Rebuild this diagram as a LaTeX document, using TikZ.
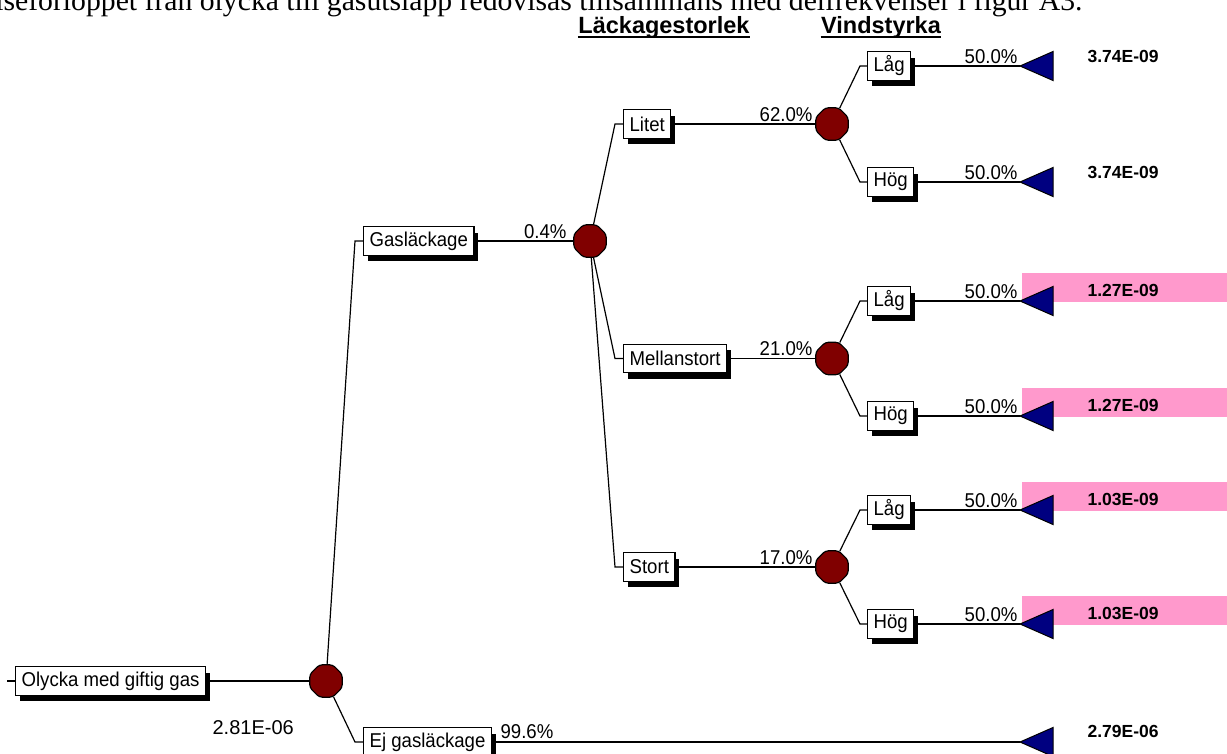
\documentclass[tikz,border=0pt]{standalone}
\usepackage{fontspec}
\setmainfont{Liberation Sans}
\newfontfamily\serifbody{Liberation Serif}
\newfontfamily\treefont[FakeStretch=0.93]{Liberation Sans}
\usetikzlibrary{shapes.geometric,shadows}
\definecolor{chance}{HTML}{800000}
\definecolor{leaf}{HTML}{000080}
\definecolor{flagged}{HTML}{FF99CC}
\tikzset{
  leafmark/.pic={\filldraw[fill=leaf, line width=1pt] (0,0) -- (33,-14.5) -- (33,14.5) -- cycle;}
}
\begin{document}
\begin{tikzpicture}[x=1pt,y=-1pt, line width=1.2pt,
  evt/.style={draw, fill=white, line width=1.3pt, font=\treefont\fontsize{20}{22}\selectfont,
    inner xsep=6pt, inner ysep=0pt, minimum height=28.5pt, anchor=west,
    drop shadow={shadow xshift=4.5pt, shadow yshift=-6pt, fill=black, opacity=1}},
  chancenode/.style={regular polygon, regular polygon sides=8, draw, fill=chance,
    minimum size=35pt, inner sep=0pt, line width=1.2pt, rounded corners=3pt},
  prob/.style={font=\treefont\fontsize{20}{22}\selectfont, inner sep=0pt, anchor=base east},
  val/.style={font=\bfseries\fontsize{17.5}{19}\selectfont, inner sep=0pt, anchor=west},
  hdr/.style={font=\bfseries\fontsize{23.5}{25}\selectfont, inner sep=0pt, anchor=base}]
\useasboundingbox (0,0) rectangle (1227,753);
\clip (0,0) rectangle (1227,753);

% running text above the figure
\node[font=\serifbody\fontsize{29.7}{31}\selectfont, inner sep=0pt, anchor=base east] at (1083,10)
  {Händelseförloppet från olycka till gasutsläpp redovisas tillsammans med delfrekvenser i figur A3.};

% column headers
\node[hdr] (h1) at (664,33.5) {Läckagestorlek};
\node[hdr] (h2) at (881,33.5) {Vindstyrka};
\draw[line width=2pt] ([yshift=-3.5pt]h1.base west) -- ([yshift=-3.5pt]h1.base east);
\draw[line width=2pt] ([yshift=-3.5pt]h2.base west) -- ([yshift=-3.5pt]h2.base east);

% highlighted outcome rows
\fill[flagged] (1022,273) rectangle (1227,302);
\fill[flagged] (1022,388) rectangle (1227,417);
\fill[flagged] (1022,482) rectangle (1227,511);
\fill[flagged] (1022,596) rectangle (1227,625);

% chance nodes
\node[chancenode] (rootC) at (326,681) {};
\node[chancenode] (gasC) at (590,241) {};
\node[chancenode] (litetC) at (832,124) {};
\node[chancenode] (mellanC) at (832,358.5) {};
\node[chancenode] (stortC) at (832,567) {};

% event boxes
\node[evt] (root) at (15,681) {Olycka med giftig gas};
\node[evt] (gas) at (363,241) {Gasläckage};
\node[evt] (ej) at (363,742) {Ej gasläckage};
\node[evt] (litet) at (623,124) {Litet};
\node[evt] (mellan) at (623,358.5) {Mellanstort};
\node[evt] (stort) at (623,567) {Stort};
\node[evt] (lag1) at (867,66) {Låg};
\node[evt] (hog1) at (867,182) {Hög};
\node[evt] (lag2) at (867,301) {Låg};
\node[evt] (hog2) at (867,416) {Hög};
\node[evt] (lag3) at (867,510) {Låg};
\node[evt] (hog3) at (867,624) {Hög};

% terminal points
\coordinate (start) at (7,681);
\coordinate (e1) at (1020,66);
\coordinate (e2) at (1020,182);
\coordinate (e3) at (1020,301);
\coordinate (e4) at (1020,416);
\coordinate (e5) at (1020,510);
\coordinate (e6) at (1020,624);
\coordinate (e7) at (1020,742);

% connectors
\draw (start) -- (root.west);
\draw (root.east) -- (rootC);
\draw (rootC) -- (355,241) -- (gas.west);
\draw (rootC) -- (355,742) -- (ej.west);
\draw (gas.east) -- (gasC);
\draw (ej.east) -- (e7);
\draw (gasC) -- (615,124) -- (litet.west);
\draw (gasC) -- (615,358.5) -- (mellan.west);
\draw (gasC) -- (615,567) -- (stort.west);
\draw (litet.east) -- (litetC);
\draw (mellan.east) -- (mellanC);
\draw (stort.east) -- (stortC);
\draw (litetC) -- (860,66) -- (lag1.west);
\draw (litetC) -- (860,182) -- (hog1.west);
\draw (mellanC) -- (860,301) -- (lag2.west);
\draw (mellanC) -- (860,416) -- (hog2.west);
\draw (stortC) -- (860,510) -- (lag3.west);
\draw (stortC) -- (860,624) -- (hog3.west);
\draw (lag1.east) -- (e1);
\draw (hog1.east) -- (e2);
\draw (lag2.east) -- (e3);
\draw (hog2.east) -- (e4);
\draw (lag3.east) -- (e5);
\draw (hog3.east) -- (e6);

% terminal markers
\foreach \e in {e1,e2,e3,e4,e5,e6,e7} \pic at (\e) {leafmark};

% probabilities
\node[prob] at (567,238) {0.4\%};
\node[prob] at (813,121) {62.0\%};
\node[prob] at (813,355.5) {21.0\%};
\node[prob] at (813,564) {17.0\%};
\node[prob] at (1018,63) {50.0\%};
\node[prob] at (1018,179) {50.0\%};
\node[prob] at (1018,298) {50.0\%};
\node[prob] at (1018,413) {50.0\%};
\node[prob] at (1018,507) {50.0\%};
\node[prob] at (1018,621) {50.0\%};
\node[prob, anchor=base west] at (500,738) {99.6\%};

% outcome frequencies
\node[val] at (1087,56) {3.74E-09};
\node[val] at (1087,172) {3.74E-09};
\node[val] at (1087,290) {1.27E-09};
\node[val] at (1087,405) {1.27E-09};
\node[val] at (1087,499) {1.03E-09};
\node[val] at (1087,613) {1.03E-09};
\node[val] at (1087,731) {2.79E-06};
\node[font=\fontsize{20}{22}\selectfont, inner sep=0pt, anchor=west] at (212,728) {2.81E-06};
\end{tikzpicture}
\end{document}
